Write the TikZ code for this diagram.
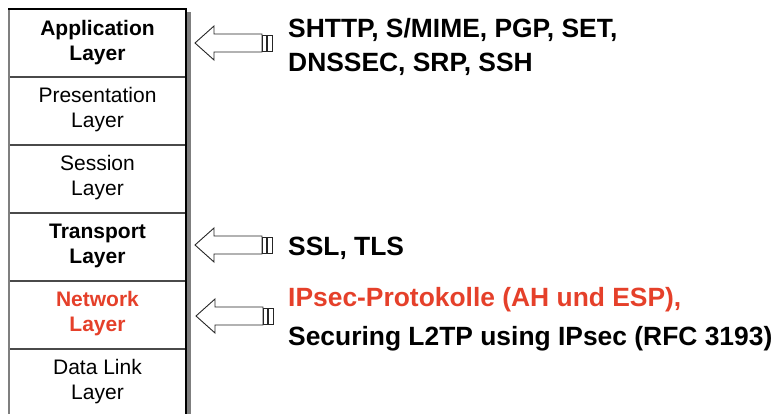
\documentclass[tikz,border=0pt]{standalone}
\usepackage{fontspec}
\setmainfont{Liberation Sans}
\definecolor{netred}{HTML}{E5402A}
\definecolor{divgray}{HTML}{4A4A4A}
\definecolor{edgegray}{HTML}{7F7F7F}
\tikzset{
  layerlabel/.style={align=center, font=\fontsize{21}{25}\selectfont, inner sep=0pt},
  boldlabel/.style={layerlabel, font=\fontsize{21}{25}\selectfont\bfseries},
  prot/.style={anchor=base west, inner sep=0pt, font=\fontsize{26.4}{30}\selectfont\bfseries},
  blockarrow/.style={draw=black!85, line width=0.9pt, fill=white, line join=miter},
  divider/.style={draw=divgray, line width=1.4pt}
}
% hollow block arrow with a double-bar tail; #1 = name of the tip coordinate
\newcommand{\protarrow}[1]{%
  \draw[blockarrow] (#1) -- ++(19,-17) -- ++(0,8) -- ++(48,0) -- ++(0,18) -- ++(-48,0) -- ++(0,8) -- cycle;
  \draw[blockarrow] ([shift={(67,-8)}]#1) rectangle ++(4.5,16);
  \draw[blockarrow] ([shift={(72.5,-8)}]#1) rectangle ++(4.5,16);
}
\begin{document}
\begin{tikzpicture}[x=1pt, y=-1pt]
\useasboundingbox (0,0) rectangle (780,414);

% layer stack frame
\fill[edgegray] (187,12) rectangle (190.5,414);
\draw[edgegray, line width=1.8pt] (9,9) -- (9,414);
\draw[black, line width=1.2pt] (8,9) -- (186,9) -- (186,414);
\foreach \y in {77,145,213,281,349} \draw[divider] (9.9,\y) -- (185.4,\y);

% layer names
\node[boldlabel] (app) at (97.5,43) {Application\\Layer};
\node[layerlabel] (pres) at (97.5,110) {Presentation\\Layer};
\node[layerlabel] (sess) at (97.5,178) {Session\\Layer};
\node[boldlabel] (trans) at (97.5,246) {Transport\\Layer};
\node[boldlabel, text=netred] (net) at (97.5,314) {Network\\Layer};
\node[layerlabel] (dlink) at (97.5,382) {Data Link\\Layer};

% arrows from the protocol lists to the layers
\coordinate (tipapp) at (195,43);
\coordinate (tiptrans) at (195,245);
\coordinate (tipnet) at (196,316);
\protarrow{tipapp}
\protarrow{tiptrans}
\protarrow{tipnet}

% protocol lists
\node[prot] (p1) at (288,38) {SHTTP, S/MIME, PGP, SET,};
\node[prot] (p2) at (288,72) {DNSSEC, SRP, SSH};
\node[prot] (p3) at (288,256) {SSL, TLS};
\node[prot, text=netred] (p4) at (288,307) {IPsec-Protokolle (AH und ESP),};
\node[prot] (p5) at (288,345) {Securing L2TP using IPsec (RFC 3193)};
\end{tikzpicture}
\end{document}
